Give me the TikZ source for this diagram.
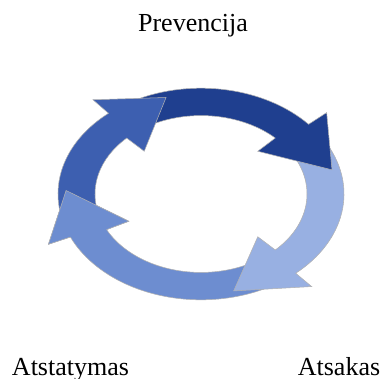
\documentclass[tikz,border=0pt]{standalone}
\usepackage{fontspec}
\setmainfont{Liberation Serif}
\usepackage{tikz}

\definecolor{cycA}{HTML}{3D5FB0}
\definecolor{cycB}{HTML}{1F3F8F}
\definecolor{cycC}{HTML}{98B0E2}
\definecolor{cycD}{HTML}{6D8DD0}

\tikzset{
  cycarrow/.style={draw=black!30, line width=0.3pt},
  lbl/.style={anchor=base, inner sep=0pt, font=\fontsize{14.8}{18}\selectfont}
}

\begin{document}
\begin{tikzpicture}
		\useasboundingbox (0,0) rectangle (7.66,7.56);
		\begin{scope}[shift={(4.02,3.68)}, yscale=0.74]
		\filldraw[cycarrow, fill=cycD] (-62:2.86) arc[start angle=-62, end angle=-156, radius=2.86] -- (-156:3.34) -- (-182:2.70) -- (-153:1.62) -- (-153:2.12) arc[start angle=-153, end angle=-62, radius=2.12] -- cycle;
		\filldraw[cycarrow, fill=cycC] (28:2.86) arc[start angle=28, end angle=-48.5, radius=2.86] -- (-48.5:3.34) -- (-76:2.70) -- (-45.5:1.62) -- (-45.5:2.12) arc[start angle=-45.5, end angle=28, radius=2.12] -- cycle;
		\filldraw[cycarrow, fill=cycB] (118:2.86) arc[start angle=118, end angle=41.2, radius=2.86] -- (41.2:3.34) -- (14:2.70) -- (45.5:1.62) -- (45.5:2.12) arc[start angle=45.5, end angle=118, radius=2.12] -- cycle;
		\filldraw[cycarrow, fill=cycA] (196:2.86) arc[start angle=196, end angle=130.3, radius=2.86] -- (130.3:3.34) -- (105:2.70) -- (134.5:1.62) -- (134.5:2.12) arc[start angle=134.5, end angle=196, radius=2.12] -- cycle;
		% head of the bottom arrow lies over the tail of the left one
		\filldraw[cycarrow, fill=cycD] (-156:2.86) -- (-156:3.34) -- (-182:2.70) -- (-153:1.62) -- (-153:2.12);
		\end{scope}
		\node[lbl] (prev) at (3.86,6.92) {Prevencija};
		\node[lbl] (atst) at (1.41,0.06) {Atstatymas};
		\node[lbl] (atsak) at (6.78,0.06) {Atsakas};
	\end{tikzpicture}
\end{document}
